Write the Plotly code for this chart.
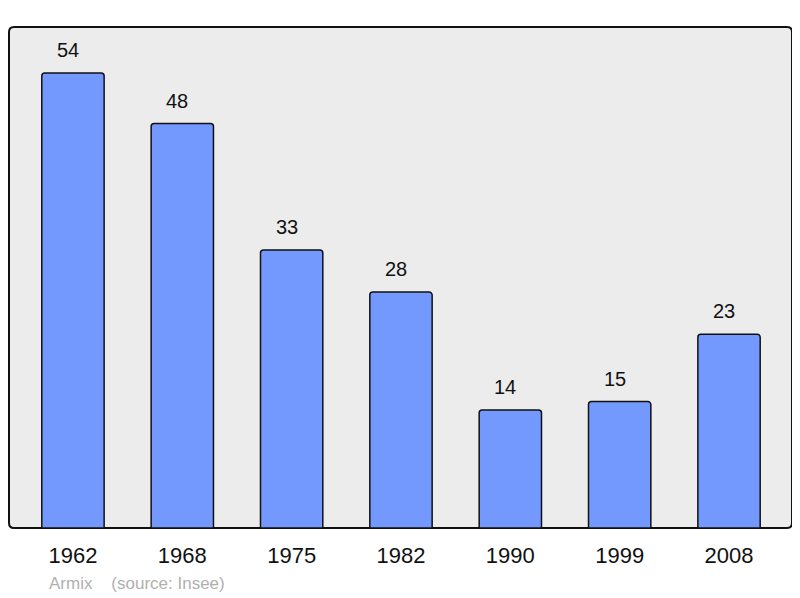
import plotly.graph_objects as go

# population by census year
years = ['1962', '1968', '1975', '1982', '1990', '1999', '2008']
population = [54, 48, 33, 28, 14, 15, 23]

# the page body adds an 8px margin, so the figure is a bit smaller
W, H = 792, 590
left, right, top, bottom = 1, 8, 19, 70

fig = go.Figure()

fig.add_trace(go.Bar(
    x=list(range(len(years))),
    y=population,
    width=0.57,
    marker=dict(color='#7399ff', line=dict(color='#111111', width=1.5),
                cornerradius=3),
    hoverinfo='skip',
))

# value labels above each bar (sit slightly left of centre)
for i, v in enumerate(population):
    fig.add_annotation(x=i, y=v, text=str(v), showarrow=False,
                       yanchor='bottom', yshift=10, xshift=-5,
                       font=dict(size=20, color='#111111'))

# frame behind the bars, with small rounded corners
pw = W - left - right
ph = H - top - bottom
rx, ry = 5 / pw, 5 / ph
frame = (f"M {rx},0 L {1-rx},0 Q 1,0 1,{ry} L 1,{1-ry} Q 1,1 {1-rx},1 "
         f"L {rx},1 Q 0,1 0,{1-ry} L 0,{ry} Q 0,0 {rx},0 Z")
fig.add_shape(type='path', xref='paper', yref='paper', path=frame,
              fillcolor='#ececec', line=dict(color='#111111', width=2),
              layer='below')

fig.add_annotation(xref='paper', yref='paper', x=0.048, y=-0.11,
                   xanchor='left', yanchor='middle', showarrow=False,
                   text='Armix&nbsp;&nbsp;&nbsp;&nbsp;(source: Insee)',
                   font=dict(size=17, color='#b0b0b0'))

fig.update_layout(
    width=W, height=H,
    margin=dict(l=left, r=right, t=top, b=bottom),
    paper_bgcolor='white',
    plot_bgcolor='rgba(0,0,0,0)',
    showlegend=False,
    font=dict(family='Liberation Sans, Arial, sans-serif'),
    xaxis=dict(range=[-0.585, 6.576], tickmode='array',
               tickvals=list(range(len(years))), ticktext=years,
               showgrid=False, zeroline=False, showline=False, ticks='',
               ticklabelstandoff=12,
               tickfont=dict(size=22, color='#111111')),
    yaxis=dict(range=[0, 59.46], showgrid=False, zeroline=False,
               showline=False, showticklabels=False, ticks=''),
)

fig.write_html("out.html")
